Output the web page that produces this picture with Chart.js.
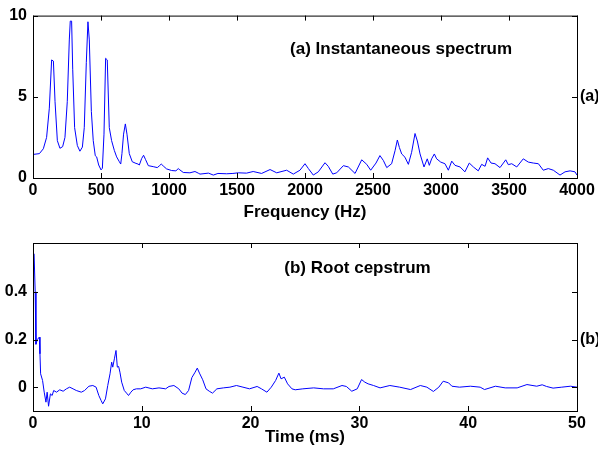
<!DOCTYPE html>
<html>
<head>
<meta charset="utf-8">
<script src="https://cdn.jsdelivr.net/npm/chart.js@4.4.0/dist/chart.umd.min.js"></script>
<style>
  html, body { margin: 0; padding: 0; background: #fff; }
  #top { position: absolute; left: 0; top: 0; width: 598px; height: 225px; }
  #bot { position: absolute; left: 0; top: 225px; width: 598px; height: 227px; }
</style>
</head>
<body>
<div id="top"><canvas id="specChart"></canvas></div>
<div id="bot"><canvas id="cepChart"></canvas></div>
<script>
// (a) instantaneous spectrum
const specFreq = [0,47,76,100,120,137,150,162,179,198,218,235,252,267,274,284,292,306,326,345,363,377,392,404,414,429,443,458,468,483,500,510,522,534,546,561,578,598,615,635,645,654,666,679,691,708,730,757,772,782,799,813,828,848,884,914,928,943,958,982,1019,1051,1068,1080,1105,1154,1191,1215,1228,1290,1326,1360,1424,1470,1510,1570,1619,1681,1743,1792,1865,1914,1963,2000,2025,2061,2098,2147,2171,2204,2233,2282,2319,2368,2417,2454,2483,2522,2551,2576,2601,2637,2662,2679,2694,2711,2735,2760,2784,2809,2826,2846,2875,2899,2914,2931,2951,2968,2998,3029,3054,3079,3103,3140,3176,3208,3238,3274,3299,3324,3343,3368,3397,3434,3476,3495,3520,3557,3605,3642,3679,3716,3752,3789,3826,3875,3912,3949,3985,4000];
const specMag = [1.45,1.5,1.8,2.5,4.3,7.27,7.2,4.7,2.3,1.83,1.93,2.5,4.7,8.5,9.66,9.66,6.7,3.1,2.0,1.65,1.9,3.1,7.1,9.62,8.5,4.1,2.3,1.37,1.3,0.8,0.5,0.6,2.7,7.37,7.27,3.1,2.3,1.7,1.3,1.0,0.86,1.5,2.7,3.33,2.7,1.5,1.0,0.9,0.86,0.8,1.2,1.4,1.13,0.76,0.7,0.64,0.74,0.86,0.74,0.56,0.46,0.44,0.58,0.5,0.34,0.32,0.4,0.3,0.24,0.3,0.18,0.28,0.26,0.28,0.32,0.3,0.4,0.28,0.52,0.32,0.48,0.24,0.48,0.88,0.58,0.18,0.38,0.94,0.72,0.24,0.32,0.76,0.68,0.28,1.12,0.84,0.48,0.92,1.38,1.08,0.64,0.88,1.68,2.34,1.88,1.48,1.28,0.84,1.58,2.74,2.28,1.48,0.68,1.18,0.78,1.18,1.48,1.18,0.98,0.88,0.48,1.04,0.78,0.68,0.38,0.92,0.68,0.44,0.84,0.72,1.24,0.92,0.88,0.64,1.12,0.82,0.88,0.68,1.18,0.98,0.92,0.88,0.48,0.58,0.48,0.18,0.38,0.44,0.38,0.18];

// (b) root cepstrum
const cepTime = [0.1,0.2,0.27,0.4,0.58,0.64,0.7,0.88,1.03,1.19,1.3,1.43,1.6,1.76,1.9,2.16,2.46,2.77,3.07,3.37,3.68,3.98,4.44,4.74,5.14,5.5,5.8,6.05,6.26,6.41,6.66,6.87,7.08,7.23,7.33,7.48,7.63,7.75,7.87,7.99,8.15,8.39,8.6,8.78,9.0,9.2,9.5,9.9,10.36,10.97,11.58,12.19,12.5,12.95,13.4,13.7,14.0,14.3,14.6,14.9,15.1,15.3,15.6,15.9,16.2,16.5,16.9,17.5,18.1,18.7,19.3,19.9,20.6,21.0,21.5,21.9,22.3,22.6,22.8,23.1,23.4,23.8,24.1,24.8,25.8,26.7,27.6,28.4,28.8,29.3,29.8,30.2,30.5,30.8,31.3,31.9,32.8,33.7,34.7,35.6,36.2,36.8,37.3,37.7,38.2,38.5,39.2,40.2,41.1,41.5,42.5,43.4,44.5,45.4,46.3,46.8,47.2,47.8,48.6,49.4,50.0];
const cepVal = [0.56,0.40,0.18,0.20,0.21,0.14,0.056,0.028,-0.021,-0.063,-0.021,-0.08,-0.028,-0.035,-0.014,-0.021,-0.011,-0.017,-0.007,0.0,-0.007,-0.014,-0.021,-0.014,0.004,0.007,0.0,-0.035,-0.056,-0.07,-0.049,0.007,0.056,0.105,0.084,0.119,0.154,0.084,0.087,0.063,0.021,-0.014,-0.025,-0.035,-0.021,-0.011,-0.007,-0.007,0.0,-0.007,-0.003,-0.007,0.003,0.007,-0.007,-0.025,-0.031,-0.014,0.04,0.063,0.080,0.059,0.031,-0.007,-0.017,-0.025,-0.007,-0.003,0.0,0.007,0.0,-0.007,0.003,-0.007,-0.021,0.0,0.028,0.059,0.035,0.042,0.014,-0.007,-0.011,-0.007,-0.003,-0.007,-0.007,0.007,0.003,-0.017,-0.007,0.032,0.021,0.014,0.007,-0.003,0.007,0.0,-0.01,0.007,0.0,-0.018,0.0,0.025,0.018,0.004,0.0,0.004,0.0,-0.01,0.004,-0.003,-0.003,0.011,0.004,0.01,0.003,-0.004,0.0,0.004,0.0];

const specTicksY = [0, 5, 10];
const cepTicksY = [0, 0.2, 0.4];

const FONT = '"Liberation Sans", Arial, Helvetica, sans-serif';
const tickFont = { family: FONT, size: 16, weight: 'bold' };
const titleFont = { family: FONT, size: 17, weight: 'bold' };

// MATLAB-style box with inward ticks, plus the panel note
const framePlugin = {
  id: 'frame',
  afterDraw(chart, args, opts) {
    const { ctx, chartArea: a, scales } = chart;
    ctx.save();
    ctx.strokeStyle = '#000';
    ctx.lineWidth = 1;
    ctx.strokeRect(a.left + 0.5, a.top + 0.5, a.right - a.left, a.bottom - a.top);
    ctx.beginPath();
    scales.x.ticks.forEach(t => {
      const px = Math.round(scales.x.getPixelForValue(t.value)) + 0.5;
      ctx.moveTo(px, a.bottom); ctx.lineTo(px, a.bottom - 5);
      ctx.moveTo(px, a.top); ctx.lineTo(px, a.top + 5);
    });
    scales.y.ticks.forEach(t => {
      const py = Math.round(scales.y.getPixelForValue(t.value)) + 0.5;
      ctx.moveTo(a.left, py); ctx.lineTo(a.left + 5, py);
    });
    scales.y2.ticks.forEach(t => {
      const py = Math.round(scales.y2.getPixelForValue(t.value)) + 0.5;
      ctx.moveTo(a.right, py); ctx.lineTo(a.right - 5, py);
    });
    ctx.stroke();
    ctx.font = 'bold 17px ' + FONT;
    ctx.fillStyle = '#000';
    ctx.textAlign = 'left';
    ctx.textBaseline = 'middle';
    ctx.fillText(opts.text, scales.x.getPixelForValue(opts.x), scales.y.getPixelForValue(opts.y));
    ctx.restore();
  }
};

function makeChart(id, xs, ys, cfg) {
  return new Chart(document.getElementById(id), {
    type: 'line',
    data: {
      datasets: [{
        data: xs.map((x, i) => ({ x: x, y: ys[i] })),
        borderColor: '#0000ff', borderWidth: 1, pointRadius: 0, tension: 0, fill: false
      }]
    },
    options: {
      responsive: true, maintainAspectRatio: false, animation: false,
      layout: { padding: { top: cfg.padTop, left: 0, right: 0, bottom: 0 } },
      plugins: { legend: { display: false }, tooltip: { enabled: false }, frame: cfg.note },
      scales: {
        x: {
          type: 'linear', min: cfg.xMin, max: cfg.xMax,
          grid: { display: false, drawTicks: false }, border: { display: false },
          ticks: { stepSize: cfg.xStep, color: '#000', font: tickFont, padding: 3, maxRotation: 0,
            callback: v => String(v) },
          title: { display: true, text: cfg.xTitle, color: '#000', font: titleFont,
            padding: { top: 0, bottom: cfg.titleGap } },
          afterFit: s => { s.height = cfg.xHeight; }
        },
        y: {
          min: cfg.yMin, max: cfg.yMax,
          grid: { display: false, drawTicks: false }, border: { display: false },
          afterBuildTicks: s => { s.ticks = cfg.yTicks.map(v => ({ value: v })); },
          ticks: { color: '#000', font: tickFont, padding: 6, callback: v => String(v) },
          afterFit: s => { s.width = 33; }
        },
        y2: {
          position: 'right', min: cfg.yMin, max: cfg.yMax,
          grid: { display: false, drawTicks: false }, border: { display: false },
          afterBuildTicks: s => { s.ticks = cfg.yTicks.map(v => ({ value: v })); },
          ticks: { color: '#000', font: tickFont, padding: 3,
            callback: v => (v === cfg.sideAt ? cfg.sideLabel : '') },
          afterFit: s => { s.width = 21; }
        }
      }
    },
    plugins: [framePlugin]
  });
}

makeChart('specChart', specFreq, specMag, {
  padTop: 11, xHeight: 47, xMin: 0, xMax: 4000, xStep: 500, xTitle: 'Frequency (Hz)', titleGap: 2,
  yMin: 0, yMax: 10, yTicks: specTicksY, sideAt: 5, sideLabel: '(a)',
  note: { text: '(a) Instantaneous spectrum', x: 1890, y: 7.92 }
});

makeChart('cepChart', cepTime, cepVal, {
  padTop: 18, xHeight: 41, xMin: 0, xMax: 50, xStep: 10, xTitle: 'Time (ms)', titleGap: 4,
  yMin: -0.1, yMax: 0.605, yTicks: cepTicksY, sideAt: 0.2, sideLabel: '(b)',
  note: { text: '(b) Root cepstrum', x: 23.1, y: 0.5 }
});
</script>
</body>
</html>
